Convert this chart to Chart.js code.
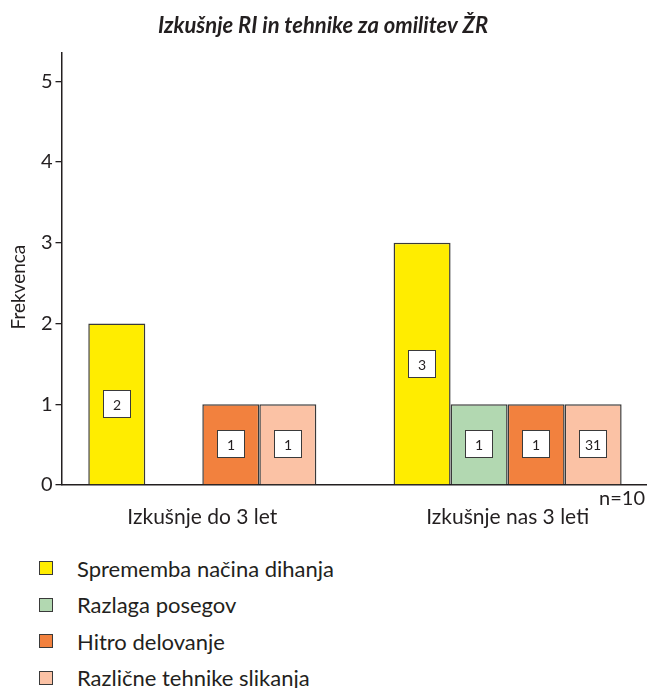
<!DOCTYPE html>
<html>
<head>
<meta charset="utf-8">
<script src="https://cdn.jsdelivr.net/npm/chart.js@4"></script>
<style>
  html, body { margin: 0; padding: 0; background: #fff; }
  #wrap { position: relative; width: 648px; height: 688px; }
  #chart { position: absolute; left: 0; top: 0; }
  #legend { position: absolute; left: 39px; top: 550px; font-family: Lato, sans-serif; font-size: 22px; color: #231f20; }
  .item { display: flex; align-items: center; height: 36.5px; }
  .sw { width: 12px; height: 12px; border: 1.5px solid #3a3a3a; margin-right: 24px; flex: none; }
</style>
</head>
<body>
<div id="wrap">
  <canvas id="chart" width="648" height="540"></canvas>
  <div id="legend"></div>
</div>
<script>
// Categories and series
const categories = ['Izkušnje do 3 let', 'Izkušnje nas 3 leti'];
const seriesNames = ['Sprememba načina dihanja', 'Razlaga posegov', 'Hitro delovanje', 'Različne tehnike slikanja'];
const spremembaDihanja = [2, 3];
const razlagaPosegov = [null, 1];
const hitroDelovanje = [1, 1];
const razlicneTehnike = [1, 1];
// Text printed in the box inside each bar
const spremembaLabels = ['2', '3'];
const razlagaLabels = [null, '1'];
const hitroLabels = ['1', '1'];
const razlicneLabels = ['1', '31'];
const yTicks = [0, 1, 2, 3, 4, 5];
const titleText = 'Izkušnje RI in tehnike za omilitev ŽR';
const yTitle = 'Frekvenca';
const sampleNote = 'n=10';

const seriesValues = [spremembaDihanja, razlagaPosegov, hitroDelovanje, razlicneTehnike];
const seriesBoxLabels = [spremembaLabels, razlagaLabels, hitroLabels, razlicneLabels];
const seriesColors = ['#ffed00', '#b2d8b1', '#f2813e', '#fbc2a5'];

const INK = '#231f20';
const FONT = 'Lato, sans-serif';

const toPoints = arr => arr.map((v, i) => ({ x: i, y: v }));

// Value boxes, axis title and sample size note
const annotations = {
  id: 'annotations',
  afterDatasetsDraw(chart) {
    const ctx = chart.ctx;
    ctx.save();
    chart.data.datasets.forEach((ds, di) => {
      const meta = chart.getDatasetMeta(di);
      meta.data.forEach((bar, i) => {
        const text = seriesBoxLabels[di][i];
        if (text == null || ds.data[i].y == null) return;
        const cx = Math.round(bar.x), cy = Math.round((bar.y + bar.base) / 2);
        ctx.fillStyle = '#fff';
        ctx.fillRect(cx - 14, cy - 14, 28, 28);
        ctx.strokeStyle = '#3a3a3a';
        ctx.lineWidth = 1;
        ctx.strokeRect(cx - 13.5, cy - 13.5, 27, 27);
        ctx.fillStyle = INK;
        ctx.font = '14px ' + FONT;
        ctx.textAlign = 'center';
        ctx.textBaseline = 'middle';
        ctx.fillText(text, cx, cy + 1);
      });
    });
    ctx.restore();
  },
  afterDraw(chart) {
    const ctx = chart.ctx, area = chart.chartArea, ys = chart.scales.y;
    ctx.save();
    ctx.fillStyle = INK;
    // rotated y axis title, centred on the tick range
    ctx.font = '19px ' + FONT;
    ctx.translate(19, ys.getPixelForValue((yTicks[0] + yTicks[yTicks.length - 1]) / 2) + 4);
    ctx.rotate(-Math.PI / 2);
    ctx.textAlign = 'center';
    ctx.textBaseline = 'middle';
    ctx.fillText(yTitle, 0, 0);
    ctx.restore();
    ctx.save();
    ctx.fillStyle = INK;
    ctx.font = '20px ' + FONT;
    ctx.textAlign = 'right';
    ctx.textBaseline = 'alphabetic';
    ctx.fillText(sampleNote, area.right - 1, area.bottom + 20);
    ctx.restore();
  }
};

const chart = new Chart(document.getElementById('chart'), {
  type: 'bar',
  data: {
    datasets: seriesNames.map((name, i) => ({
      label: name,
      data: toPoints(seriesValues[i]),
      backgroundColor: seriesColors[i],
      borderColor: '#3a3a3a',
      borderWidth: 1.5,
      barPercentage: 1,
      categoryPercentage: 0.747
    }))
  },
  options: {
    responsive: false,
    animation: false,
    layout: { padding: { left: 0, right: 2, top: 0, bottom: 0 } },
    plugins: {
      legend: { display: false },
      tooltip: { enabled: false },
      title: {
        display: true,
        text: titleText,
        color: INK,
        font: { family: FONT, size: 22, weight: 'bold', style: 'italic', lineHeight: 1.2 },
        padding: { top: 12.3, bottom: 14.3 }
      }
    },
    scales: {
      x: {
        type: 'linear',
        offset: false,
        min: -0.4612,
        max: 1.4533,
        afterBuildTicks: s => { s.ticks = categories.map((_, i) => ({ value: i })); },
        afterFit: s => { s.height = 55; },
        ticks: {
          autoSkip: false,
          maxRotation: 0,
          padding: 12,
          color: INK,
          font: { family: FONT, size: 21 },
          callback: v => categories[v] ?? ''
        },
        grid: { display: false },
        border: { display: true, color: INK, width: 1.5 }
      },
      y: {
        min: 0,
        max: 5.35,
        afterBuildTicks: s => { s.ticks = yTicks.map(v => ({ value: v })); },
        afterFit: s => { s.width = 61.5; },
        ticks: { padding: 3, color: INK, font: { family: FONT, size: 20 } },
        grid: { drawOnChartArea: false, drawTicks: true, tickLength: 6, color: INK, lineWidth: 1.3 },
        border: { display: true, color: INK, width: 1.5 }
      }
    }
  },
  plugins: [annotations]
});

// Legend built from the datasets
const legend = document.getElementById('legend');
chart.data.datasets.forEach(ds => {
  const item = document.createElement('div');
  item.className = 'item';
  const sw = document.createElement('span');
  sw.className = 'sw';
  sw.style.background = ds.backgroundColor;
  const label = document.createElement('span');
  label.textContent = ds.label;
  item.appendChild(sw);
  item.appendChild(label);
  legend.appendChild(item);
});
</script>
</body>
</html>
